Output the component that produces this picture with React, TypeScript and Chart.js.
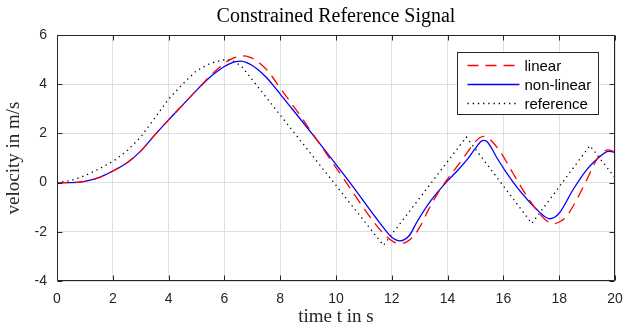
import { useEffect, useRef } from "react";
import { Chart, registerables } from "chart.js";

Chart.register(...registerables);

const titleText = "Constrained Reference Signal";
const xLabel = "time t in s";
const yLabel = "velocity in m/s";
const seriesNames = ["linear", "non-linear", "reference"];

const xTicks = [0, 2, 4, 6, 8, 10, 12, 14, 16, 18, 20];
const yTicks = [-4, -2, 0, 2, 4, 6];

const linearT = [0, 0.5, 1, 1.5, 2, 2.5, 3, 3.5, 4, 4.5, 5, 5.5, 6, 6.3, 6.65, 6.9, 7.16, 7.4, 7.6, 8, 8.61, 9, 10.16, 11.47, 11.8, 12.05, 12.3, 12.55, 12.8, 13.02, 13.32, 13.62, 13.98, 14.34, 14.69, 14.95, 15.15, 15.3, 15.45, 15.65, 15.89, 16.36, 16.84, 17.32, 17.55, 17.79, 18.05, 18.27, 18.63, 18.99, 19.34, 19.55, 19.75, 20];
const linearV = [0, 0, 0.05, 0.2, 0.47, 0.8, 1.28, 1.93, 2.55, 3.15, 3.75, 4.35, 4.85, 5.05, 5.15, 5.1, 4.95, 4.72, 4.48, 3.84, 2.9, 2.26, 0.35, -1.77, -2.18, -2.4, -2.48, -2.4, -2.15, -1.77, -1.09, -0.49, 0.12, 0.66, 1.2, 1.6, 1.82, 1.88, 1.82, 1.6, 1.25, 0.35, -0.55, -1.3, -1.55, -1.67, -1.57, -1.36, -0.69, 0.12, 0.93, 1.22, 1.33, 1.25];

const nonlinearT = [0, 0.5, 1, 1.5, 2, 2.5, 3, 3.5, 4, 4.5, 5, 5.5, 5.75, 6, 6.2, 6.4, 6.6, 6.8, 7, 7.25, 7.5, 7.75, 8, 8.46, 9.13, 10.5, 11.82, 12, 12.15, 12.3, 12.45, 12.65, 12.9, 13.38, 13.98, 14.35, 14.69, 15, 15.15, 15.27, 15.4, 15.55, 15.77, 16.36, 16.96, 17.32, 17.5, 17.65, 17.82, 18.03, 18.5, 18.99, 19.46, 19.62, 19.76, 19.9, 20];
const nonlinearV = [0, 0, 0.05, 0.2, 0.47, 0.8, 1.28, 1.93, 2.55, 3.15, 3.75, 4.3, 4.53, 4.72, 4.84, 4.92, 4.94, 4.88, 4.76, 4.55, 4.28, 3.95, 3.6, 2.95, 2.0, 0, -2.0, -2.22, -2.33, -2.37, -2.32, -2.12, -1.6, -0.76, 0.05, 0.48, 0.92, 1.4, 1.62, 1.72, 1.68, 1.45, 1.0, 0.0, -0.82, -1.23, -1.4, -1.47, -1.42, -1.2, -0.28, 0.53, 1.06, 1.2, 1.27, 1.26, 1.2];

const referenceT = [0, 0.5, 1, 1.5, 2, 2.5, 3, 3.5, 4, 4.5, 5, 5.5, 5.9, 6.15, 6.4, 6.65, 11.7, 14.67, 17.02, 19.1, 20];
const referenceV = [0, 0.08, 0.28, 0.55, 0.86, 1.28, 1.85, 2.62, 3.4, 4.0, 4.55, 4.85, 4.98, 5.0, 4.9, 4.68, -2.55, 1.85, -1.66, 1.5, 0.2];

const AX = "#262626";
const SERIF = "'Liberation Serif', 'Times New Roman', serif";
const SANS = "'Liberation Sans', Arial, sans-serif";

const toPts = (t: number[], v: number[]) => t.map((x, i) => ({ x, y: v[i] }));

const framePlugin = {
  id: "frame",
  afterDatasetsDraw(chart: any) {
    const { ctx, chartArea: ca, scales } = chart;
    const xs = scales.x;
    const ys = scales.y;
    ctx.save();
    ctx.strokeStyle = AX;
    ctx.lineWidth = 1;
    ctx.setLineDash([]);
    ctx.beginPath();
    const L = Math.round(ca.left) + 0.5;
    const R = Math.round(ca.right) - 0.5;
    const T = Math.round(ca.top) + 0.5;
    const B = Math.round(ca.bottom) - 0.5;
    ctx.rect(L, T, R - L, B - T);
    const tl = 5;
    xTicks.forEach((v) => {
      const p = Math.round(xs.getPixelForValue(v)) + 0.5;
      ctx.moveTo(p, B);
      ctx.lineTo(p, B - tl);
      ctx.moveTo(p, T);
      ctx.lineTo(p, T + tl);
    });
    yTicks.forEach((v) => {
      const p = Math.round(ys.getPixelForValue(v)) + 0.5;
      ctx.moveTo(L, p);
      ctx.lineTo(L + tl, p);
      ctx.moveTo(R, p);
      ctx.lineTo(R - tl, p);
    });
    ctx.stroke();

    // legend
    const bw = 141;
    const bh = 62;
    const bx = Math.round(ca.right - 17.5 - bw) + 0.5;
    const by = Math.round(ca.top + 17) + 0.5;
    ctx.fillStyle = "#ffffff";
    ctx.fillRect(bx, by, bw, bh);
    ctx.strokeStyle = AX;
    ctx.strokeRect(bx, by, bw, bh);
    ctx.font = "15px " + SANS;
    ctx.textBaseline = "middle";
    ctx.textAlign = "left";
    chart.data.datasets.forEach((ds: any, i: number) => {
      const yy = by + 13 + i * 19;
      ctx.beginPath();
      ctx.strokeStyle = ds.borderColor;
      ctx.lineWidth = ds.borderWidth;
      ctx.setLineDash(ds.borderDash || []);
      ctx.moveTo(bx + 10, yy);
      ctx.lineTo(bx + 62, yy);
      ctx.stroke();
      ctx.setLineDash([]);
      ctx.fillStyle = "#000000";
      ctx.fillText(ds.label, bx + 67, yy + 1);
    });
    ctx.restore();
  },
};

export default function App() {
  const ref = useRef<HTMLCanvasElement | null>(null);
  useEffect(() => {
    document.body.style.margin = "0";
    const canvas = ref.current;
    if (!canvas) return;
    const chart = new Chart(canvas, {
      type: "line",
      data: {
        datasets: [
          {
            label: seriesNames[0],
            data: toPts(linearT, linearV),
            borderColor: "#ff0000",
            borderWidth: 1.3,
            borderDash: [11, 7],
            pointRadius: 0,
            cubicInterpolationMode: "monotone",
            fill: false,
          },
          {
            label: seriesNames[1],
            data: toPts(nonlinearT, nonlinearV),
            borderColor: "#0000ff",
            borderWidth: 1.3,
            pointRadius: 0,
            cubicInterpolationMode: "monotone",
            fill: false,
          },
          {
            label: seriesNames[2],
            data: toPts(referenceT, referenceV),
            borderColor: "#000000",
            borderWidth: 1.3,
            borderDash: [1.3, 3.9],
            pointRadius: 0,
            tension: 0,
            fill: false,
          },
        ],
      },
      options: {
        animation: false,
        responsive: false,
        devicePixelRatio: 1,
        layout: { padding: { left: 0, right: 11, top: 0, bottom: 0 } },
        plugins: {
          legend: { display: false },
          tooltip: { enabled: false },
          title: {
            display: true,
            fullSize: false,
            text: titleText,
            color: "#000000",
            font: { family: SERIF, size: 20, weight: "normal" },
            padding: { top: 5, bottom: 6 },
          },
        },
        scales: {
          x: {
            type: "linear",
            min: 0,
            max: 20,
            afterBuildTicks: (s: any) => {
              s.ticks = xTicks.map((v) => ({ value: v }));
            },
            afterFit: (s: any) => {
              s.height = 45;
              s.paddingLeft = 0;
              s.paddingRight = 0;
            },
            ticks: {
              autoSkip: false,
              maxRotation: 0,
              padding: 10,
              color: AX,
              font: { family: SANS, size: 14 },
            },
            grid: { color: "#dfdfdf", lineWidth: 1, drawTicks: false },
            border: { display: false },
            title: {
              display: true,
              text: xLabel,
              color: AX,
              font: { family: SERIF, size: 19, lineHeight: 0.8 },
              padding: { top: 0, bottom: 1 },
            },
          },
          y: {
            type: "linear",
            min: -4,
            max: 6,
            afterBuildTicks: (s: any) => {
              s.ticks = yTicks.map((v) => ({ value: v }));
            },
            afterFit: (s: any) => {
              s.width = 57;
              s.paddingTop = 0;
              s.paddingBottom = 0;
            },
            ticks: {
              padding: 10,
              color: AX,
              font: { family: SANS, size: 14 },
            },
            grid: { color: "#dfdfdf", lineWidth: 1, drawTicks: false },
            border: { display: false },
            title: {
              display: true,
              text: yLabel,
              color: AX,
              font: { family: SERIF, size: 19 },
              padding: { top: 3, bottom: 0 },
            },
          },
        },
      },
      plugins: [framePlugin],
    } as any);
    return () => chart.destroy();
  }, []);
  return (
    <div style={{ width: 626, height: 326 }}>
      <canvas ref={ref} width={626} height={326} style={{ display: "block", width: 626, height: 326 }} />
    </div>
  );
}
